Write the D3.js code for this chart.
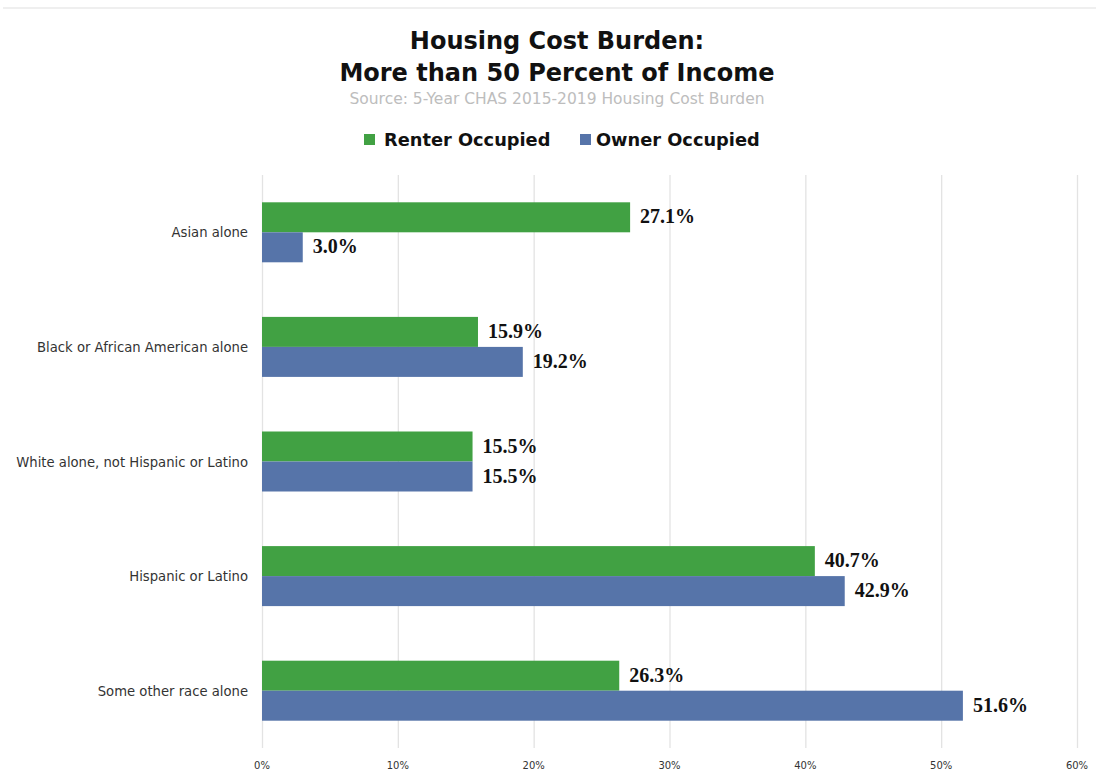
<!DOCTYPE html>
<html>
<head>
<meta charset="utf-8">
<script src="https://cdn.jsdelivr.net/npm/d3@7"></script>
<style>
  body { margin: 0; background: #fff; }
  svg { display: block; }
</style>
</head>
<body>
<div id="chart"></div>
<script>
// chart data
var categories = ["Asian alone", "Black or African American alone", "White alone, not Hispanic or Latino", "Hispanic or Latino", "Some other race alone"];
var renterValues = [27.1, 15.9, 15.5, 40.7, 26.3];
var ownerValues = [3.0, 19.2, 15.5, 42.9, 51.6];
var seriesNames = ["Renter Occupied", "Owner Occupied"];
var tickValues = [0, 10, 20, 30, 40, 50, 60];

var width = 1096, height = 774;
var margin = { top: 175, right: 19, bottom: 26, left: 262 };
var colors = ["#41a143", "#5674a9"];

var svg = d3.select("#chart").append("svg")
  .attr("width", width)
  .attr("height", height);

// thin top rule
svg.append("rect").attr("x", 3).attr("y", 7).attr("width", width - 3).attr("height", 2).attr("fill", "#efefef");

// titles
svg.append("text")
  .attr("x", 557).attr("y", 49)
  .attr("text-anchor", "middle")
  .style("font-family", "Tahoma, 'DejaVu Sans', sans-serif")
  .style("font-weight", "bold").style("font-size", "24px")
  .attr("fill", "#111")
  .text("Housing Cost Burden:");
svg.append("text")
  .attr("x", 557).attr("y", 81)
  .attr("text-anchor", "middle")
  .style("font-family", "Tahoma, 'DejaVu Sans', sans-serif")
  .style("font-weight", "bold").style("font-size", "24px")
  .attr("fill", "#111")
  .text("More than 50 Percent of Income");
svg.append("text")
  .attr("x", 557).attr("y", 104)
  .attr("text-anchor", "middle")
  .style("font-family", "Tahoma, 'DejaVu Sans', sans-serif")
  .style("font-size", "15.5px")
  .attr("fill", "#bdbdbd")
  .text("Source: 5-Year CHAS 2015-2019 Housing Cost Burden");

// legend
var legendX = [364, 580];
seriesNames.forEach(function (name, i) {
  svg.append("rect")
    .attr("x", legendX[i]).attr("y", 134)
    .attr("width", 11).attr("height", 11)
    .attr("fill", colors[i]);
  svg.append("text")
    .attr("x", legendX[i] + 20 - (i == 1 ? 4 : 0)).attr("y", 146)
    .style("font-family", "Tahoma, 'DejaVu Sans', sans-serif")
    .style("font-weight", "bold").style("font-size", "17.8px")
    .attr("fill", "#111")
    .text(name);
});

var plotH = height - margin.top - margin.bottom;
var x = d3.scaleLinear().domain([0, 60]).range([margin.left, width - margin.right]);
var y = d3.scaleBand().domain(categories).range([margin.top, margin.top + plotH]);

// grid
svg.append("g").selectAll("line")
  .data(tickValues)
  .enter()
  .append("line")
  .attr("x1", function (d) { return x(d) + 0.5; })
  .attr("x2", function (d) { return x(d) + 0.5; })
  .attr("y1", margin.top)
  .attr("y2", margin.top + plotH)
  .attr("stroke", "#e3e3e3")
  .attr("stroke-width", 1.3);

// x tick labels
svg.append("g").selectAll("text")
  .data(tickValues)
  .enter()
  .append("text")
  .attr("x", function (d) { return x(d); })
  .attr("y", 769)
  .attr("text-anchor", "middle")
  .style("font-family", "Tahoma, 'DejaVu Sans', sans-serif")
  .style("font-size", "10px")
  .attr("fill", "#333")
  .text(function (d) { return d + "%"; });

// category labels
svg.append("g").selectAll("text")
  .data(categories)
  .enter()
  .append("text")
  .attr("x", 248)
  .attr("y", function (d) { return y(d) + y.bandwidth() / 2 + 5; })
  .attr("text-anchor", "end")
  .style("font-family", "Tahoma, 'DejaVu Sans', sans-serif")
  .style("font-size", "13.2px")
  .attr("fill", "#333")
  .text(function (d) { return d; });

var barH = 30;
var series = [renterValues, ownerValues];
series.forEach(function (vals, s) {
  var g = svg.append("g");
  g.selectAll("rect")
    .data(vals)
    .enter()
    .append("rect")
    .attr("x", x(0))
    .attr("y", function (d, i) { return y(categories[i]) + y.bandwidth() / 2 - barH + s * barH; })
    .attr("width", function (d) { return x(d) - x(0); })
    .attr("height", barH)
    .attr("fill", colors[s]);
  g.selectAll("text")
    .data(vals)
    .enter()
    .append("text")
    .attr("x", function (d) { return x(d) + 10; })
    .attr("y", function (d, i) { return y(categories[i]) + y.bandwidth() / 2 - barH + s * barH + barH / 2 + 6; })
    .style("font-family", "'Liberation Serif', serif")
    .style("font-weight", "bold").style("font-size", "20px")
    .attr("fill", "#111")
    .text(function (d) { return d.toFixed(1) + "%"; });
});
</script>
</body>
</html>
